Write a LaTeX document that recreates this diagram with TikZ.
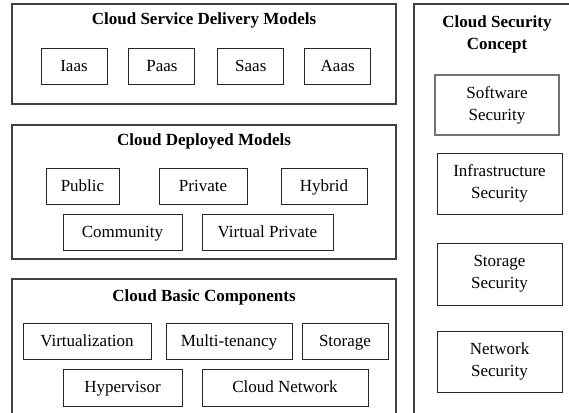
\documentclass[tikz,border=0pt]{standalone}
\usepackage{fontspec}
\setmainfont{Liberation Serif}
\usetikzlibrary{positioning}

\begin{document}
\begin{tikzpicture}[x=1pt, y=-1pt, node distance=21pt,
	panel/.style={draw=black!75, line width=1.1pt, inner sep=0pt, minimum width=384pt},
	item/.style={draw=black!85, line width=0.9pt, inner sep=0pt, minimum height=36pt, text centered, font=\fontsize{17}{22}\selectfont},
	word/.style={item, text height=13pt, text depth=3pt},
	heading/.style={text centered, align=center, font=\bfseries\fontsize{17}{22}\selectfont}]

		\clip (0,0) rectangle (569,412);

		% panels %
		\node[panel, minimum height=100pt] (delivery) at (204,54) {};
		\node[panel, minimum height=134pt] (deployed) at (204,192) {};
		\node[panel, minimum height=160pt] (basic) at (204,359) {};
		\node[panel, minimum width=180pt, minimum height=440pt] (security) at (504,224) {};

		% nodes - for service delivery models %
		\node[heading] (deliverytitle) at (204,20) {Cloud Service Delivery Models};
		\node[word, minimum width=66pt] (iaas) at (74,66) {Iaas};
		\node[word, minimum width=66pt, right=21pt of iaas] (paas) {Paas};
		\node[word, minimum width=66pt, right=22pt of paas] (saas) {Saas};
		\node[word, minimum width=66pt, right=20pt of saas] (aaas) {Aaas};

		% nodes - for deployed models %
		\node[heading] (deployedtitle) at (204,141) {Cloud Deployed Models};
		\node[word, minimum width=73pt] (public) at (82.5,186) {Public};
		\node[word, minimum width=88pt] (private) at (203,186) {Private};
		\node[word, minimum width=86pt] (hybrid) at (324,186) {Hybrid};
		\node[word, minimum width=119pt] (community) at (122.5,232) {Community};
		\node[word, minimum width=131pt] (virtual) at (267.5,232) {Virtual Private};

		% nodes - for basic components %
		\node[heading] (basictitle) at (204,297) {Cloud Basic Components};
		\node[word, minimum width=128pt] (virtualization) at (87,341) {Virtualization};
		\node[word, minimum width=126pt] (tenancy) at (229,341) {Multi-tenancy};
		\node[word, minimum width=86pt] (storage) at (345,341) {Storage};
		\node[word, minimum width=119pt, minimum height=37pt] (hypervisor) at (122.5,387.5) {Hypervisor};
		\node[word, minimum width=166pt, minimum height=37pt] (network) at (285,387.5) {Cloud Network};

		% nodes - for security concept %
		\node[heading] (securitytitle) at (497,34) {Cloud Security\\Concept};
		\node[item, align=center, draw=black!55, line width=1.2pt, minimum width=124pt, minimum height=60pt] (software) at (497,105) {Software\\Security};
		\node[item, align=center, minimum width=125pt, minimum height=61pt] (infrastructure) at (499.5,183.5) {Infrastructure\\Security};
		\node[item, align=center, minimum width=125pt, minimum height=62pt] (storagesec) at (499.5,274) {Storage\\Security};
		\node[item, align=center, minimum width=125pt, minimum height=61pt] (networksec) at (499.5,361.5) {Network\\Security};

\end{tikzpicture}
\end{document}
